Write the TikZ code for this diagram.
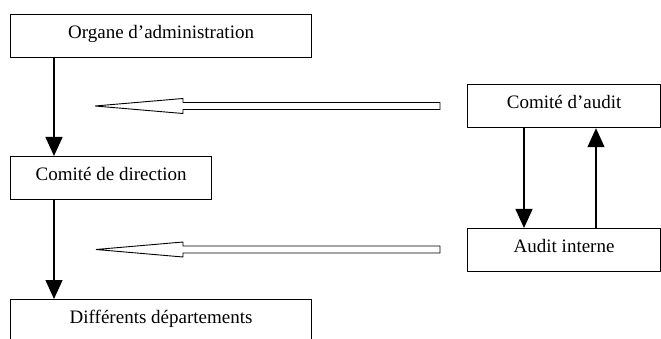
\documentclass[tikz,border=0pt]{standalone}
\usepackage{fontspec}
\setmainfont{Liberation Serif}
\usetikzlibrary{arrows.meta, positioning}
\tikzset{
box/.style={
  draw, line width=1.2pt,
  inner sep=0pt,
  anchor=north west,
  text height=24pt,
  text depth=19pt,
  font=\fontsize{19}{22}\selectfont
},
flow/.style={line width=1.3pt, -{Triangle[length=19pt,width=17pt]}},
hollow/.style={draw, line width=0.9pt, line join=miter, fill=white},
}

\begin{document}
\begin{tikzpicture}[x=1pt,y=-1pt]
    \useasboundingbox (0,0) rectangle (661,339);
    \node[box, minimum width=301pt] (org)   at (10,14)  {Organe d'administration};
    \node[box, minimum width=201pt] (dir)   at (10,156) {Comité de direction};
    \node[box, minimum width=301pt] (dept)  at (10,299) {Différents départements};
    \node[box, minimum width=193pt] (comite) at (467,84)  {Comité d'audit};
    \node[box, minimum width=193pt] (audit)  at (467,228) {Audit interne};

    \draw[flow] ([xshift=44pt]org.south west) -- ([xshift=44pt]dir.north west);
    \draw[flow] ([xshift=44pt]dir.south west) -- ([xshift=44pt]dept.north west);
    \draw[flow] ([xshift=57pt]comite.south west) -- ([xshift=57pt]audit.north west);
    \draw[flow] ([xshift=129pt]audit.north west) -- ([xshift=129pt]comite.south west);

    % fleches creuses
    \coordinate (tipA) at (95,106);
    \coordinate (tipB) at (96,249.5);
    \draw[hollow] (tipA) -- ++(88,-7.5) -- ++(0,4) -- ++(257,0) -- ++(0,7) -- ++(-257,0) -- ++(0,4) -- cycle;
    \draw[hollow] (tipB) -- ++(87,-7.5) -- ++(0,4) -- ++(257,0) -- ++(0,7) -- ++(-257,0) -- ++(0,4) -- cycle;
\end{tikzpicture}
\end{document}
